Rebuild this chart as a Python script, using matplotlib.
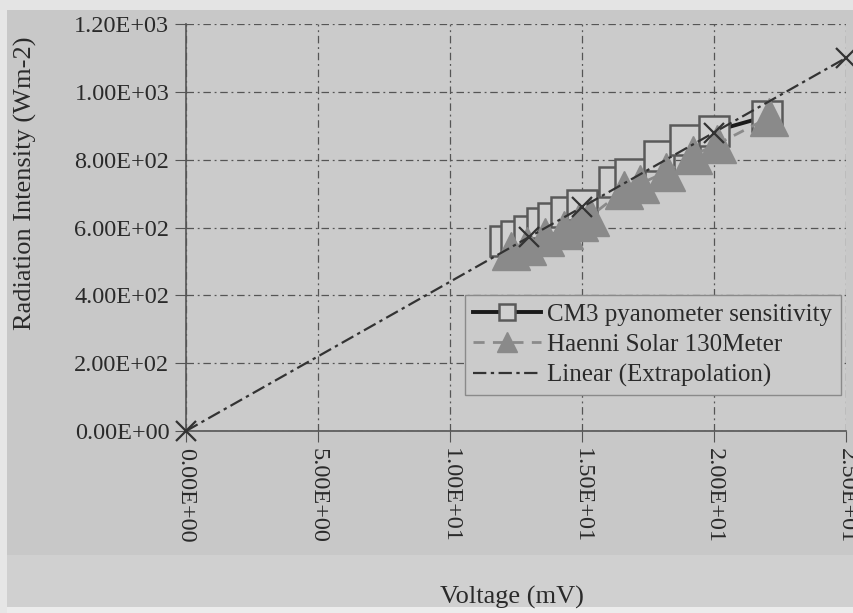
import matplotlib
matplotlib.use("Agg")
import matplotlib.pyplot as plt
from matplotlib.patches import Rectangle
import numpy as np

# ---- data ----
cm3_x = [12.1, 12.5, 13.0, 13.5, 13.9, 14.4, 15.0, 16.2, 16.8, 17.9, 18.9, 20.0, 22.0]
cm3_y = [559, 575, 590, 612, 627, 645, 665, 735, 758, 812, 857, 884, 928]
haenni_x = [12.3, 12.9, 13.6, 14.3, 14.9, 15.3, 16.6, 17.2, 18.2, 19.2, 20.1, 22.1]
haenni_y = [530, 544, 572, 594, 615, 632, 711, 729, 764, 813, 845, 925]
extrap_x = [0, 13, 15, 20, 25]
extrap_y = [0, 572, 660, 880, 1100]
xticks = [0, 5, 10, 15, 20, 25]
xtick_labels = ["0.00E+00", "5.00E+00", "1.00E+01", "1.50E+01", "2.00E+01", "2.50E+01"]
yticks = [0, 200, 400, 600, 800, 1000, 1200]
ytick_labels = ["0.00E+00", "2.00E+02", "4.00E+02", "6.00E+02", "8.00E+02", "1.00E+03", "1.20E+03"]

plt.rcParams['font.family'] = ['Liberation Serif', 'DejaVu Serif']

bg = '#cbcbcb'
W, H = 854, 613
fig = plt.figure(figsize=(W/100, H/100), dpi=100, facecolor='#c8c8c8')
# lighter strips around the scanned chart
fig.patches.append(Rectangle((0, 6/H), 1, 52/H, transform=fig.transFigure,
                             facecolor='#d0d0d0', edgecolor='none', zorder=0))
fig.patches.append(Rectangle((0, 0), 1, 6/H, transform=fig.transFigure,
                             facecolor='#ececec', edgecolor='none', zorder=0))
fig.patches.append(Rectangle((0, 0), 7/W, 1, transform=fig.transFigure,
                             facecolor='#e6e6e6', edgecolor='none', zorder=0))
fig.patches.append(Rectangle((0, 1-10/H), 1, 10/H, transform=fig.transFigure,
                             facecolor='#e4e4e4', edgecolor='none', zorder=0))

ax = fig.add_axes([186/W, 1-431/H, (846-186)/W, (431-24)/H])
ax.set_facecolor(bg)

# linear trendline of extrapolation series
coef = np.polyfit(extrap_x, extrap_y, 1)
tx = np.array([0, 25])
ax.plot(tx, np.polyval(coef, tx), color='#333333', lw=1.6,
        linestyle=(0, (6, 2, 1.5, 2)), label='Linear (Extrapolation)', zorder=5)

ax.plot(cm3_x, cm3_y, color='#1a1a1a', lw=2.8, marker='s', markersize=21,
        markerfacecolor='#d0d0d0', markeredgecolor='#5a5a5a', markeredgewidth=1.8,
        label='CM3 pyanometer sensitivity', zorder=3)
ax.plot(haenni_x, haenni_y, color='#8a8a8a', lw=2, linestyle=(0, (4, 3)), marker='^',
        markersize=27, markerfacecolor='#8a8a8a', markeredgecolor='#8a8a8a',
        label='Haenni Solar 130Meter', zorder=4)
ax.plot(extrap_x, extrap_y, linestyle='none', marker='x', markersize=14,
        markeredgewidth=1.6, color='#333333', clip_on=False, zorder=6)

ax.set_xlim(0, 25)
ax.set_ylim(0, 1200)
ax.set_xticks(xticks)
ax.set_xticklabels(xtick_labels, rotation=270, fontsize=17.5)
ax.set_yticks(yticks)
ax.set_yticklabels(ytick_labels, fontsize=17.5)
ax.tick_params(axis='both', direction='out', length=8, color='#555555', labelcolor='#2a2a2a')
ax.tick_params(axis='y', pad=4)
ax.tick_params(axis='x', pad=4)

ax.grid(True, color='#555555', linestyle=(0, (6, 3, 1.5, 3)), lw=0.9)
for s in ['top', 'right']:
    ax.spines[s].set_visible(False)
for s in ['left', 'bottom']:
    ax.spines[s].set_color('#555555')
    ax.spines[s].set_linewidth(1.2)

fig.text(25/W, 1-183/H, 'Radiation Intensity (Wm-2)', fontsize=19, color='#2a2a2a',
         rotation=90, ha='center', va='center')
fig.text(512/W, 1-597/H, 'Voltage (mV)', fontsize=19, color='#2a2a2a', ha='center', va='center')

h, l = ax.get_legend_handles_labels()
order = [1, 2, 0]
leg = ax.legend([h[i] for i in order], [l[i] for i in order], loc='lower right',
                bbox_to_anchor=(1.0, 0.075), fontsize=18, frameon=True, fancybox=False,
                facecolor=bg, edgecolor='#8a8a8a', framealpha=1, handlelength=2.7,
                markerscale=0.55, borderpad=0.35, labelspacing=0.3, handletextpad=0.25,
                borderaxespad=0.2)
leg.get_frame().set_linewidth(1.0)
for t in leg.get_texts():
    t.set_color('#2a2a2a')

fig.savefig('out.png', dpi=100, facecolor=fig.get_facecolor())
